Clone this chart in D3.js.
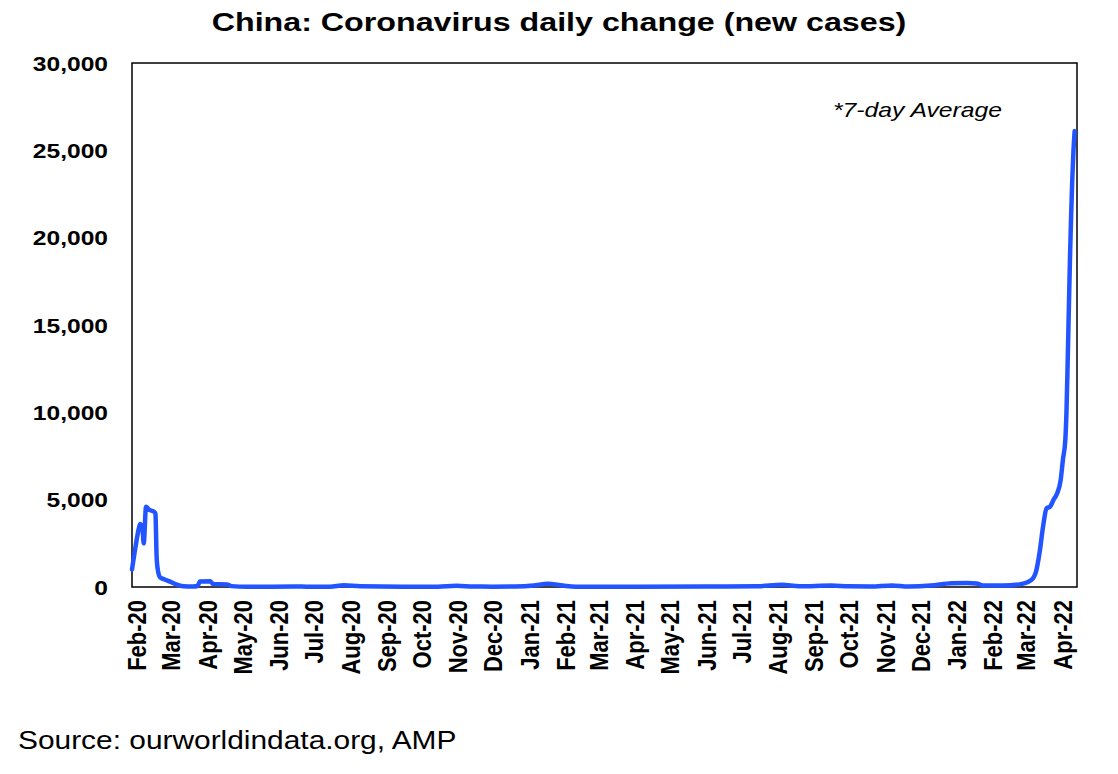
<!DOCTYPE html>
<html>
<head>
<meta charset="utf-8">
<script src="https://cdn.jsdelivr.net/npm/d3@7"></script>
<style>
  body { margin: 0; background: #fff; }
  text { font-family: "Liberation Sans", Arial, sans-serif; fill: #000; }
</style>
</head>
<body>
<script>
// 7-day average of new cases
var dates = [
  "2020-01-28","2020-01-31","2020-02-03","2020-02-04","2020-02-06","2020-02-07","2020-02-09","2020-02-10",
  "2020-02-11","2020-02-16","2020-02-17","2020-02-18","2020-02-19","2020-02-21","2020-02-25","2020-02-29",
  "2020-03-07","2020-03-12","2020-03-20","2020-03-24","2020-03-26","2020-04-04","2020-04-06","2020-04-18",
  "2020-04-22","2020-05-05","2020-06-15","2020-06-25","2020-07-15","2020-07-27","2020-08-10","2020-09-15",
  "2020-10-15","2020-10-31","2020-11-15","2020-12-01","2020-12-20","2021-01-05","2021-01-17","2021-01-30",
  "2021-02-10","2021-04-01","2021-06-01","2021-07-15","2021-08-05","2021-08-20","2021-09-16","2021-10-01",
  "2021-10-20","2021-11-07","2021-11-21","2021-12-10","2021-12-28","2022-01-10","2022-01-18","2022-01-25",
  "2022-02-10","2022-02-24","2022-03-06","2022-03-10","2022-03-13","2022-03-16","2022-03-19","2022-03-22",
  "2022-03-25","2022-03-28","2022-03-31","2022-04-02","2022-04-04","2022-04-05","2022-04-06","2022-04-07",
  "2022-04-08","2022-04-09","2022-04-10","2022-04-11","2022-04-12"
];
var cases = [
  1000, 2300, 3400, 3600, 3300, 2500, 4600, 4550,
  4450, 4300, 4200, 1800, 1000, 550, 430, 320,
  120, 40, 30, 60, 320, 330, 170, 150,
  50, 10, 30, 20, 10, 100, 40, 15,
  20, 70, 25, 20, 25, 80, 190, 80,
  15, 20, 25, 40, 130, 40, 80, 40,
  30, 90, 30, 80, 220, 230, 200, 80,
  80, 150, 400, 880, 1950, 3450, 4500, 4600,
  5000, 5350, 6100, 7300, 8400, 10000, 12800, 15800,
  18800, 21300, 23400, 25000, 26100
];
var yTicks = [0, 5000, 10000, 15000, 20000, 25000, 30000];
var xStart = "2020-01-28", xEnd = "2022-04-14";

var W = 1118, H = 774;
var pLeft = 132, pRight = 1077, pTop = 63, pBottom = 587;
var SX = 1.2; // text in the picture is stretched sideways

var parse = d3.timeParse("%Y-%m-%d");
var data = dates.map(function(d, i) { return { date: parse(d), value: cases[i] }; });

var svg = d3.select("body").append("svg")
  .attr("width", W)
  .attr("height", H);

var x = d3.scaleTime().domain([parse(xStart), parse(xEnd)]).range([pLeft, pRight]);
var y = d3.scaleLinear().domain([0, 30000]).range([pBottom, pTop]);

var xTicks = d3.timeMonth.range(parse("2020-02-01"), parse("2022-04-02"));

// title
svg.append("text")
  .attr("transform", "translate(559,31) scale(1.24,1)")
  .attr("text-anchor", "middle")
  .style("font-size", "26px")
  .style("font-weight", "bold")
  .text("China: Coronavirus daily change (new cases)");

// y axis
var gy = svg.append("g")
  .attr("transform", "translate(" + pLeft + ",0)")
  .call(d3.axisLeft(y).tickValues(yTicks).tickSize(0).tickFormat(d3.format(",")));
gy.select(".domain").remove();
gy.selectAll("text")
  .attr("x", 0)
  .attr("dy", "0.35em")
  .attr("transform", "translate(-24,0) scale(" + SX + ",1)")
  .attr("font-family", null)
  .attr("font-size", null)
  .style("font-size", "20.5px")
  .style("font-weight", "bold");

// x axis
var gx = svg.append("g")
  .attr("transform", "translate(0," + pBottom + ")")
  .call(d3.axisBottom(x).tickValues(xTicks).tickSize(0).tickFormat(d3.timeFormat("%b-%y")));
gx.select(".domain").remove();
gx.selectAll("text")
  .attr("x", 0)
  .attr("y", 0)
  .attr("dy", "0.35em")
  .attr("text-anchor", "end")
  .attr("transform", "translate(0,13) scale(" + SX + ",1) rotate(-90)")
  .attr("font-family", null)
  .attr("font-size", null)
  .style("font-size", "22px")
  .style("font-weight", "bold");

// plot frame
svg.append("rect")
  .attr("x", pLeft)
  .attr("y", pTop)
  .attr("width", pRight - pLeft)
  .attr("height", pBottom - pTop)
  .attr("fill", "none")
  .attr("stroke", "#000")
  .attr("stroke-width", 1.5);

var line = d3.line()
  .x(function(d) { return x(d.date); })
  .y(function(d) { return y(d.value); })
  .curve(d3.curveMonotoneX);

svg.append("path")
  .datum(data)
  .attr("d", line)
  .attr("fill", "none")
  .attr("stroke", "#2255ff")
  .attr("stroke-width", 4.5)
  .attr("stroke-linejoin", "round")
  .attr("stroke-linecap", "round");

// note
svg.append("text")
  .attr("transform", "translate(833,117) scale(" + SX + ",1)")
  .style("font-size", "20.6px")
  .style("font-style", "italic")
  .text("*7-day Average");

// source
svg.append("text")
  .attr("transform", "translate(18,749) scale(" + SX + ",1)")
  .style("font-size", "24.9px")
  .text("Source: ourworldindata.org, AMP");
</script>
</body>
</html>
